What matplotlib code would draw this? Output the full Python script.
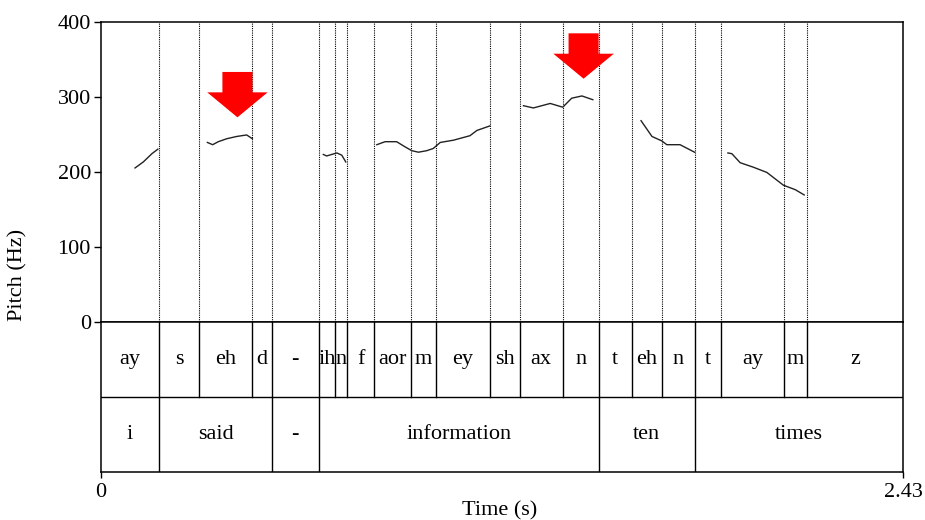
import numpy as np
import matplotlib.pyplot as plt
from matplotlib.patches import FancyArrow

plt.rcParams['font.family'] = ['Liberation Serif', 'DejaVu Serif']

t_end = 2.43
fs = 16

# phone tier (end time of each interval)
phone_labels = ['ay', 's', 'eh', 'd', '-', 'ih', 'n', 'f', 'aor', 'm', 'ey',
                'sh', 'ax', 'n', 't', 'eh', 'n', 't', 'ay', 'm', 'z']
phone_ends = [0.178, 0.298, 0.457, 0.518, 0.660, 0.709, 0.746, 0.828, 0.938,
              1.015, 1.178, 1.268, 1.399, 1.508, 1.608, 1.699, 1.798, 1.878,
              2.069, 2.137, 2.43]

# word tier
word_labels = ['i', 'said', '-', 'information', 'ten', 'times']
word_ends = [0.178, 0.518, 0.660, 1.508, 1.798, 2.43]

# pitch track, nan = unvoiced gap
pitch_t = [0.104, 0.129, 0.155, 0.173, np.nan,
           0.323, 0.339, 0.356, 0.382, 0.412, 0.442, 0.459, np.nan,
           0.674, 0.684, 0.715, 0.730, 0.742, np.nan,
           0.836, 0.861, 0.896, 0.922, 0.942, 0.962, 0.987, 1.007, 1.028,
           1.068, 1.118, 1.139, 1.178, np.nan,
           1.280, 1.310, 1.361, 1.399, 1.426, 1.457, 1.490, np.nan,
           1.636, 1.669, 1.699, 1.714, 1.754, 1.798, np.nan,
           1.899, 1.911, 1.936, 1.976, 2.017, 2.067, 2.103, 2.130]
pitch_hz = [205, 213, 224, 230, np.nan,
            239, 236, 240, 244, 247, 249, 244, np.nan,
            223, 221, 225, 222, 213, np.nan,
            236, 240, 240, 233, 228, 226, 228, 231, 239,
            242, 248, 255, 261, np.nan,
            288, 285, 291, 286, 298, 301, 296, np.nan,
            268, 247, 241, 236, 236, 226, np.nan,
            225, 224, 212, 206, 199, 182, 176, 169]

# red arrows: centre time, top and tip (Hz)
arrow_t = [0.414, 1.462]
arrow_top = [333, 384.5]
arrow_tip = [272.5, 324]

fig = plt.figure(figsize=(9.25, 5.2), dpi=100)
ax = fig.add_axes([0.10886, 0.38135, 0.86768, 0.57692])
axt = fig.add_axes([0.10886, 0.09288, 0.86768, 0.28846])

# pitch panel
ax.set_xlim(0, t_end)
ax.set_ylim(0, 400)
for b in phone_ends[:-1]:
    ax.axvline(b, color='black', ls=(0, (1, 1)), lw=0.8)
ax.plot(pitch_t, pitch_hz, color='#222222', lw=1.0)

for t, top, tip in zip(arrow_t, arrow_top, arrow_tip):
    ax.add_patch(FancyArrow(t, top, 0, tip - top, width=0.091, head_width=0.183,
                            head_length=33.3, length_includes_head=True,
                            color='#ff0000', lw=0, zorder=5))

ax.set_xticks([])
ax.set_yticks([0, 100, 200, 300, 400])
ax.tick_params(axis='y', direction='out', length=5, width=1, labelsize=fs, pad=2)
for s in ax.spines.values():
    s.set_linewidth(1.1)

# tiers
axt.set_xlim(0, t_end)
axt.set_ylim(0, 2)
axt.axhline(1, color='black', lw=1)
start = 0
for lab, e in zip(phone_labels, phone_ends):
    if e < t_end:
        axt.plot([e, e], [1, 2], color='black', lw=1)
    axt.text((start + e) / 2, 1.5, lab, ha='center', va='center', fontsize=fs)
    start = e
start = 0
for lab, e in zip(word_labels, word_ends):
    if e < t_end:
        axt.plot([e, e], [0, 1], color='black', lw=1)
    axt.text((start + e) / 2, 0.5, lab, ha='center', va='center', fontsize=fs)
    start = e

axt.set_yticks([])
axt.set_xticks([0, t_end])
axt.set_xticklabels(['0', '2.43'])
axt.tick_params(axis='x', direction='out', length=4, width=1, labelsize=fs, pad=4)
for s in axt.spines.values():
    s.set_linewidth(1.1)

fig.text(500 / 925, 1 - 511 / 520, 'Time (s)', ha='center', va='center', fontsize=fs)
fig.text(18 / 925, 1 - 275 / 520, 'Pitch (Hz)', ha='center', va='center',
         rotation=90, fontsize=fs)

fig.savefig('out.png', dpi=100)
